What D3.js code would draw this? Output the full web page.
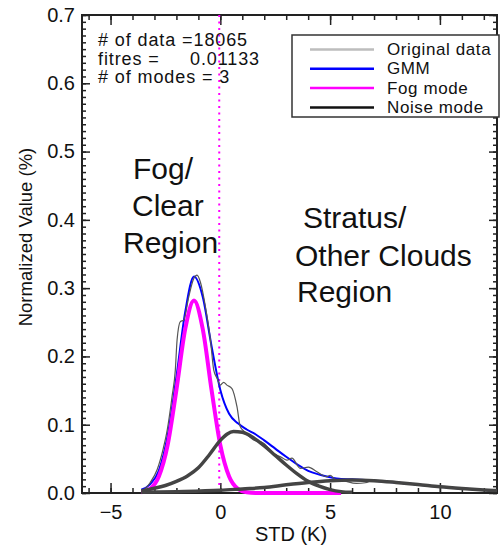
<!DOCTYPE html>
<html>
<head>
<meta charset="utf-8">
<script src="https://cdn.jsdelivr.net/npm/d3@7"></script>
<style>
  body { margin: 0; background: #fff; }
  svg { font-family: "Liberation Sans", Arial, Helvetica, sans-serif; }
</style>
</head>
<body>
<div id="chart"></div>
<script>
// values
const xOrig = [-3.6, -3.49, -3.2, -2.88, -2.6, -2.42, -2.2, -2.05, -1.97, -1.82, -1.67, -1.44, -1.21, -1.06, -0.91, -0.68, -0.45, -0.3, -0.15, 0, 0.15, 0.3, 0.53, 0.76, 0.91, 1.1, 1.5, 1.97, 2.42, 2.8, 3.03, 3.26, 3.64, 4.01, 4.4, 4.85, 5.0, 5.23, 5.6, 6.2, 6.6, 7.0, 7.6, 8.5, 9.5, 10.5, 11.5, 12.6];
const origData = [0.001, 0.004, 0.015, 0.034, 0.065, 0.092, 0.141, 0.18, 0.224, 0.251, 0.253, 0.287, 0.314, 0.319, 0.309, 0.273, 0.224, 0.18, 0.168, 0.158, 0.162, 0.158, 0.153, 0.126, 0.097, 0.09, 0.078, 0.073, 0.058, 0.052, 0.048, 0.051, 0.036, 0.038, 0.031, 0.024, 0.026, 0.020, 0.018, 0.014, 0.015, 0.019, 0.0166, 0.014, 0.011, 0.0075, 0.005, 0.003];

const xGmm = [-3.6, -3.2, -2.8, -2.4, -2.0, -1.6, -1.2, -0.8, -0.4, 0, 0.4, 0.8, 1.2, 1.6, 2.0, 2.5, 3.0, 3.5, 4.0, 4.5, 5.0, 5.5, 6, 7, 8, 9, 10, 11, 12, 12.6];
const gmm = [0.005, 0.0127, 0.033, 0.084, 0.170, 0.265, 0.317, 0.287, 0.215, 0.151, 0.116, 0.102, 0.093, 0.086, 0.077, 0.065, 0.053, 0.042, 0.0325, 0.027, 0.023, 0.0205, 0.020, 0.018, 0.0155, 0.0125, 0.009, 0.0065, 0.0045, 0.0035];

const xFog = [-3.6, -3.2, -2.8, -2.4, -2.0, -1.6, -1.2, -0.8, -0.4, 0.0, 0.4, 0.8, 1.2, 1.6, 2.0, 3.0, 4.0, 5.5];
const fogMode = [0.001, 0.006, 0.024, 0.070, 0.151, 0.240, 0.282, 0.240, 0.151, 0.070, 0.024, 0.006, 0.001, 0, 0, 0, 0, 0];

const xNoise1 = [-3.6, -3.0, -2.5, -2.0, -1.5, -1.0, -0.5, 0.0, 0.3, 0.6, 1.0, 1.5, 2.0, 2.5, 3.0, 3.5, 4.0, 4.5, 5.0, 5.5, 6.0];
const noise1 = [0.003, 0.007, 0.011, 0.017, 0.025, 0.037, 0.056, 0.077, 0.086, 0.090, 0.089, 0.081, 0.069, 0.055, 0.041, 0.028, 0.017, 0.010, 0.005, 0.002, 0.001];

const xNoise2 = [-3.6, -2.0, 0, 1, 2, 3, 4, 5, 6, 7, 8, 9, 10, 11, 12, 12.6];
const noise2 = [0.001, 0.002, 0.004, 0.006, 0.008, 0.012, 0.0155, 0.018, 0.019, 0.018, 0.0155, 0.0125, 0.009, 0.0065, 0.0045, 0.0035];

const xMajorTicks = [-5, 0, 5, 10];
const yMajorTicks = [0, 0.1, 0.2, 0.3, 0.4, 0.5, 0.6, 0.7];
const threshold = -0.05;

const infoLines = ["# of data =18065", "fitres =", "# of modes = 3"];
const fitresValue = "0.01133";
const legendItems = ["Original data", "GMM", "Fog mode", "Noise mode"];
const legendColors = ["#bdbdbd", "#0000ff", "#ff00ff", "#111111"];

const width = 502, height = 545;
const plotL = 82, plotT = 15, plotR = 497, plotB = 493;

const svg = d3.select("#chart").append("svg")
  .attr("width", width).attr("height", height);

const x = d3.scaleLinear().domain([-6.3, 12.6]).range([plotL, plotR]);
const y = d3.scaleLinear().domain([0, 0.7]).range([plotB, plotT]);

const xMinor = d3.range(-6, 13, 1);
const yMinor = d3.range(0, 71, 1).map(d => d / 100);

function styleAxis(g) {
  g.select(".domain").remove();
  g.selectAll(".tick line").attr("stroke", "#222").attr("stroke-width", 1.5);
  g.selectAll("text").attr("fill", "#111").attr("font-size", 20);
}

// minor ticks
svg.append("g").attr("transform", `translate(0,${plotB})`)
  .call(d3.axisBottom(x).tickValues(xMinor).tickSize(-5).tickFormat(""))
  .call(styleAxis);
svg.append("g").attr("transform", `translate(0,${plotT})`)
  .call(d3.axisTop(x).tickValues(xMinor).tickSize(-5).tickFormat(""))
  .call(styleAxis);
svg.append("g").attr("transform", `translate(${plotL},0)`)
  .call(d3.axisLeft(y).tickValues(yMinor).tickSize(-4).tickFormat(""))
  .call(styleAxis);
svg.append("g").attr("transform", `translate(${plotR},0)`)
  .call(d3.axisRight(y).tickValues(yMinor).tickSize(-4).tickFormat(""))
  .call(styleAxis);

// major ticks
svg.append("g").attr("transform", `translate(0,${plotB})`)
  .call(d3.axisBottom(x).tickValues(xMajorTicks).tickSize(-10).tickPadding(12).tickFormat(d3.format("d")))
  .call(styleAxis);
svg.append("g").attr("transform", `translate(0,${plotT})`)
  .call(d3.axisTop(x).tickValues(xMajorTicks).tickSize(-10).tickFormat(""))
  .call(styleAxis);
svg.append("g").attr("transform", `translate(${plotL},0)`)
  .call(d3.axisLeft(y).tickValues(yMajorTicks).tickSize(-8).tickPadding(7).tickFormat(d3.format(".1f")))
  .call(styleAxis);
svg.append("g").attr("transform", `translate(${plotR},0)`)
  .call(d3.axisRight(y).tickValues(yMajorTicks).tickSize(-8).tickFormat(""))
  .call(styleAxis);

// frame
svg.append("rect")
  .attr("x", plotL).attr("y", plotT)
  .attr("width", plotR - plotL).attr("height", plotB - plotT)
  .attr("fill", "none").attr("stroke", "#222").attr("stroke-width", 2);

// threshold
svg.append("line")
  .attr("x1", x(threshold)).attr("x2", x(threshold))
  .attr("y1", y(0.7)).attr("y2", y(0))
  .attr("stroke", "#ff00ff").attr("stroke-width", 2)
  .attr("stroke-dasharray", "2,4.5");

const line = d3.line()
  .x(d => x(d[0])).y(d => y(d[1]))
  .curve(d3.curveMonotoneX);

const zip = (xs, ys) => xs.map((v, i) => [v, ys[i]]);

svg.append("path").datum(zip(xGmm, gmm))
  .attr("d", line).attr("fill", "none")
  .attr("stroke", "#0000ff").attr("stroke-width", 2);
svg.append("path").datum(zip(xOrig, origData))
  .attr("d", line).attr("fill", "none")
  .attr("stroke", "#555").attr("stroke-width", 1.2);
svg.append("path").datum(zip(xFog, fogMode))
  .attr("d", line).attr("fill", "none")
  .attr("stroke", "#ff00ff").attr("stroke-width", 4);
svg.append("path").datum(zip(xNoise1, noise1))
  .attr("d", line).attr("fill", "none")
  .attr("stroke", "#444").attr("stroke-width", 3.5);
svg.append("path").datum(zip(xNoise2, noise2))
  .attr("d", line).attr("fill", "none")
  .attr("stroke", "#444").attr("stroke-width", 3.5);

// info text
const info = svg.append("g").attr("font-size", 18).attr("letter-spacing", 0.9).attr("fill", "#111");
info.selectAll("text").data(infoLines).join("text")
  .attr("x", 98).attr("y", (d, i) => 46 + i * 18.5)
  .text(d => d);
info.append("text").attr("x", 190).attr("y", 64.5).text(fitresValue);

// legend
const lg = svg.append("g");
lg.append("rect").attr("x", 292).attr("y", 35).attr("width", 207).attr("height", 82)
  .attr("fill", "#fff").attr("stroke", "#333").attr("stroke-width", 1.5);
legendItems.forEach((name, i) => {
  const ly = 49.5 + i * 19.3;
  lg.append("line").attr("x1", 310).attr("x2", 374).attr("y1", ly).attr("y2", ly)
    .attr("stroke", legendColors[i]).attr("stroke-width", 2.5);
  lg.append("text").attr("x", 387).attr("y", ly + 5.5)
    .attr("font-size", 17).attr("letter-spacing", 0.6).attr("fill", "#111").text(name);
});

// region labels
const notes = [
  ["Fog/", 133, 179], ["Clear", 132, 216], ["Region", 123, 253],
  ["Stratus/", 303, 228], ["Other Clouds", 295, 266], ["Region", 297, 302]
];
svg.append("g").attr("font-size", 30).attr("fill", "#111")
  .selectAll("text").data(notes).join("text")
  .attr("x", d => d[1]).attr("y", d => d[2]).text(d => d[0]);

// axis titles
svg.append("text").attr("x", 291).attr("y", 541)
  .attr("text-anchor", "middle").attr("font-size", 20).attr("fill", "#111")
  .text("STD (K)");
svg.append("text").attr("transform", "translate(32,237) rotate(-90)")
  .attr("text-anchor", "middle").attr("font-size", 18.5).attr("fill", "#111")
  .text("Normalized Value (%)");
</script>
</body>
</html>
